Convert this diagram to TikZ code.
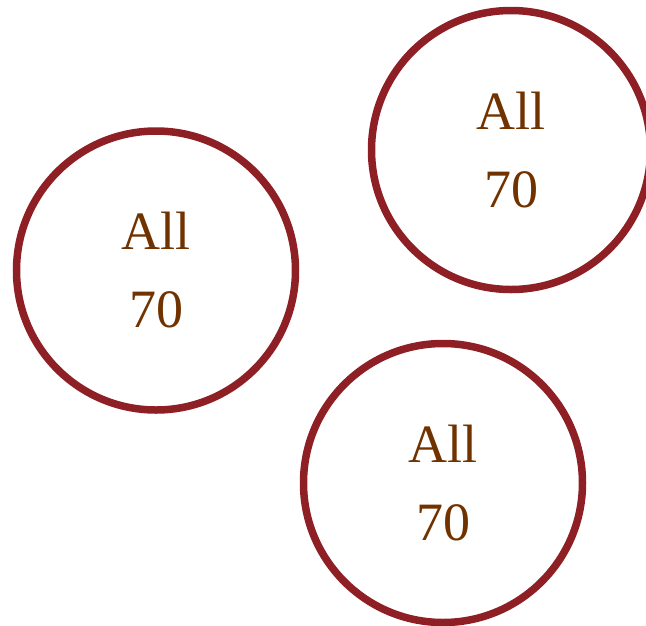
\documentclass[tikz,border=0pt]{standalone}
\usepackage{fontspec}
\setmainfont{Liberation Serif}
\usetikzlibrary{positioning}
\definecolor{ringred}{HTML}{8E1F24}
\definecolor{textbrown}{HTML}{703300}
\tikzset{ring/.style = {draw = ringred, circle, line width = 7.5pt, minimum size = 279pt,
    inner sep = 0, align = center, text = textbrown,
    font = \fontsize{54}{78}\selectfont}}

\begin{document}
\begin{tikzpicture}[x=1pt, y=-1pt]
    \useasboundingbox (0,0) rectangle (646,625);
    \node[ring] (left) at (156,270.5) {All\\70};
    \node[ring] (upper) at (511,150) {All\\70};
    \node[ring] (lower) at (443,483) {All\\70};
  \end{tikzpicture}
\end{document}
